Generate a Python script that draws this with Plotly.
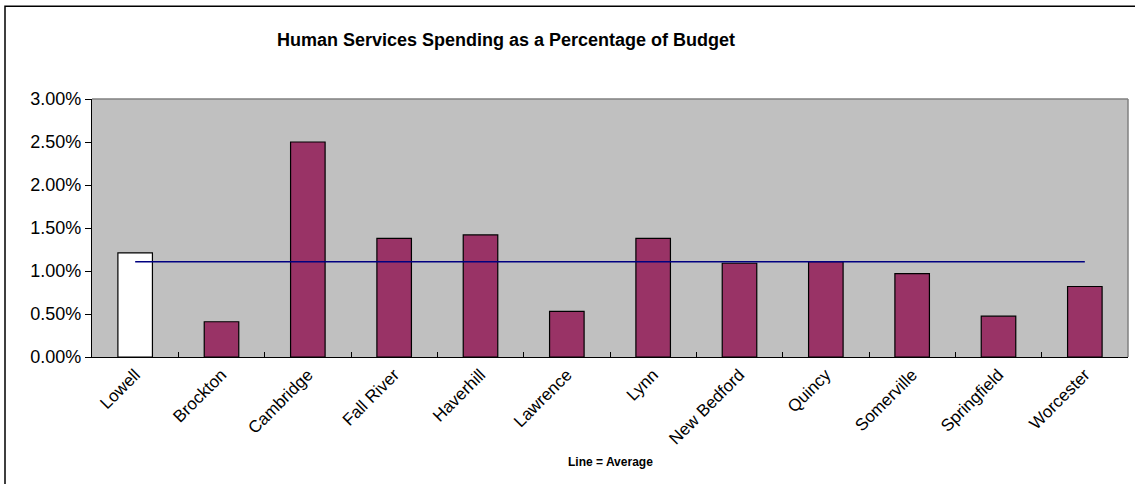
import plotly.graph_objects as go

cities = ["Lowell", "Brockton", "Cambridge", "Fall River", "Haverhill", "Lawrence",
          "Lynn", "New Bedford", "Quincy", "Somerville", "Springfield", "Worcester"]
spending_pct = [1.21, 0.41, 2.50, 1.38, 1.42, 0.53, 1.38, 1.09, 1.11, 0.97, 0.475, 0.82]
average_pct = 1.108
bar_colors = ["#FFFFFF"] + ["#993366"] * 11
y_ticks = [0, 0.5, 1.0, 1.5, 2.0, 2.5, 3.0]
y_tick_labels = ["0.00%", "0.50%", "1.00%", "1.50%", "2.00%", "2.50%", "3.00%"]

W, H = 1135, 484
ml, mr, mt, mb = 92, 7, 99, 484 - 357.5
pw, ph = W - ml - mr, H - mt - mb

def px_x(px):
    return (px - ml) / pw

def px_y(py):
    return (H - mb - py) / ph

fig = go.Figure()
fig.add_trace(go.Bar(
    x=cities, y=spending_pct,
    marker=dict(color=bar_colors, line=dict(color="#000000", width=1.2)),
    width=0.4, hoverinfo="skip", showlegend=False,
))
fig.add_trace(go.Scatter(
    x=cities, y=[average_pct] * len(cities), mode="lines",
    line=dict(color="#000080", width=1.5), hoverinfo="skip", showlegend=False,
))

fig.update_layout(
    width=W, height=H,
    margin=dict(l=ml, r=mr, t=mt, b=mb, autoexpand=False),
    paper_bgcolor="#FFFFFF", plot_bgcolor="#C0C0C0",
    font=dict(family="Liberation Sans, Arial, sans-serif", color="#000000"),
    title=dict(text="<b>Human Services Spending as a Percentage of Budget</b>",
               x=px_x(506), xref="paper", xanchor="center",
               y=1 - 40 / H, yanchor="middle",
               font=dict(size=18, family="Liberation Sans, Arial, sans-serif")),
    xaxis=dict(
        showline=True, linecolor="#000000", linewidth=1.2,
        ticks="inside", ticklen=5, tickcolor="#000000", tickson="boundaries",
        tickangle=-45, tickfont=dict(size=17),
        showgrid=False, zeroline=False, fixedrange=True,
    ),
    yaxis=dict(
        range=[0, 3], tickvals=y_ticks, ticktext=y_tick_labels,
        showline=True, linecolor="#000000", linewidth=1.2,
        ticks="outside", ticklen=6, tickcolor="#000000",
        tickfont=dict(size=18), showgrid=False, zeroline=False, fixedrange=True,
    ),
    shapes=[
        dict(type="line", xref="paper", yref="paper", x0=0, x1=1, y0=1, y1=1,
             line=dict(color="#808080", width=1.5)),
        dict(type="line", xref="paper", yref="paper", x0=1, x1=1, y0=0, y1=1,
             line=dict(color="#808080", width=1.5)),
        dict(type="rect", xref="paper", yref="paper",
             x0=px_x(5), x1=px_x(1145), y0=px_y(500), y1=px_y(6),
             line=dict(color="#000000", width=1.5), fillcolor="rgba(0,0,0,0)", layer="below"),
    ],
    annotations=[
        dict(text="<b>Line = Average</b>", xref="paper", yref="paper",
             x=px_x(610), y=px_y(463), xanchor="center", yanchor="middle",
             showarrow=False, font=dict(size=12)),
    ],
)

fig.write_html("out.html", config={"displayModeBar": False},
               post_script="document.body.style.margin='0';")
